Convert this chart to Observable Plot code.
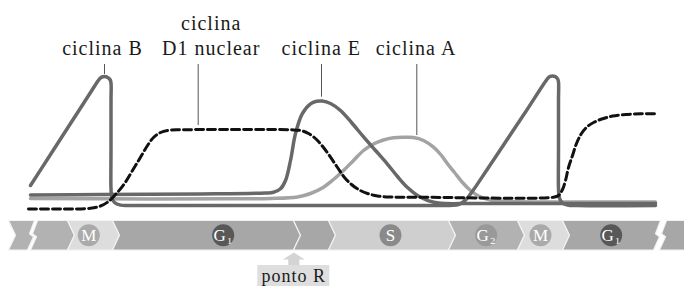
<!DOCTYPE html>
<html><head><meta charset="utf-8">
<script src="https://cdn.jsdelivr.net/npm/d3@7"></script>
<script src="https://cdn.jsdelivr.net/npm/@observablehq/plot@0.6"></script>
<style>
html,body{margin:0;padding:0;background:#fff;}
#chart svg text{letter-spacing:1px;}
</style></head><body><div id="chart"></div>
<script>
// ---- Data: relative time (a.u.) and relative level (a.u.) ----
const cyclinB_t = [0,20,40,60,68.65,70.75,74,77.25,79.63,80.5,80.5,80.5,80.5,81.3,84,90,100,170,270,370,422,428,432,436,442.5,456,476,496,517.06,519,522,525,527.2,528,528,528,528,528.8,531.5,537,547,625];
const cyclinB_v = [20,51,82,113,126.2,128.1,129,128.1,125.75,122.5,105,55,17,8,3,0.4,0,0,0,0,0.2,1,3,6.5,15,35,65,95,126.9,128.7,129.5,128.7,126.5,123.5,105,55,17,8,3,0.5,0,0];

const cyclinE_t = [0,70,170,235,243,250,255,260,265,271.7,280,286,291.7,300,310,321,333.3,345,356.7,367,376.7,390,403.3,415,440,530,625];
const cyclinE_v = [10.5,11,11.5,12.5,13.3,16.7,25,45,72,91.7,101.7,104.2,104.5,102,95,83,68.3,55,41.7,29,18.3,8.3,3.3,2,2,2,2];

const cyclinA_t = [0,120,200,240,267,280,293,303,313,323,333,343,353,363,373,383,393,403,411,417,424,432,440,448,460,480,530,625];
const cyclinA_v = [7,6.5,6.7,7,8.5,12,18.3,26,35,45,55,61.5,65.5,67.7,68.2,68,65,58.3,50,41.7,33,23,15,9.5,5.5,4,3.5,3.5];

const cyclinD1_t = [-2,30,60,70,78,86,94,102,110,117,123,130,138,150,260,270,278,286,293,300,307,314,321,328,337,347,360,390,523,528,532,535,538,542,546,551,557,564,573,582,595,610,624];
const cyclinD1_v = [-3.5,-3.5,-2.7,-0.5,4,12,22,35,48.3,60,68,73,75.2,75.7,75.7,75,72,66,58,48.3,38,28,21,16,12,9.5,8.5,8.3,8.3,10,16,25,38,50,62,72,79,83.5,87,89.5,91,91.7,91.7];

// curve labels
const labelText = ["ciclina B", "ciclina\nD1 nuclear", "ciclina E", "ciclina A"];
const labelT = [72, 180.7, 290.8, 385.5];
const leaderT = [74, 167.7, 291, 386.3];
const leaderEnd = [131, 80, 108.3, 70];

// cell-cycle phases
const phaseKind  = ["G2","G2","M","G1","G1","S","G2","M","G1","G1"];
const phaseStart = [-22, 3, 37, 82, 263, 298, 418, 487, 532, 632];
const phaseEnd   = [0, 37, 82, 263, 298, 418, 487, 532, 626, 660];
const phaseLeft  = ["chevron","bolt","chevron","chevron","chevron","chevron","chevron","chevron","chevron","bolt"];
const phaseRight = ["bolt","chevron","chevron","chevron","chevron","chevron","chevron","chevron","bolt","chevron"];

const markerKind  = ["M","G1","S","G2","M","G1"];
const markerText  = ["M","G\u2081","S","G\u2082","M","G\u2081"];
const markerT     = [58.3, 192.7, 360, 455.7, 510, 580.7];

const restrictionT = [263.3];
const restrictionLabel = ["ponto R"];

// ---- layout / style constants ----
const BAR_TOP = -15, BAR_BOT = -44.5, BAR_MID = (BAR_TOP + BAR_BOT) / 2, CHEV = 7;
const LABEL_BASE = 150.7, LEADER_TOP = 141;
const barTone = {M: "#dddddd", G1: "#a7a7a7", S: "#cfcfcf", G2: "#b2b2b2"};
const dotTone = {M: "#aaaaaa", G1: "#585858", S: "#8a8a8a", G2: "#999999"};

function edgePts(kind, x) { // top to bottom
  if (kind === "chevron") return [[x, BAR_TOP], [x + CHEV, BAR_MID], [x, BAR_BOT]];
  if (kind === "bolt") return [[x + 4, BAR_TOP], [x - 1, BAR_MID + 1.5], [x + 3, BAR_MID - 1.5], [x - 3, BAR_BOT]];
  return [[x, BAR_TOP], [x, BAR_BOT]];
}
const barPoly = [];
phaseKind.forEach((k, i) => {
  const right = edgePts(phaseRight[i], phaseEnd[i]);
  const left = edgePts(phaseLeft[i], phaseStart[i]).reverse();
  [...right, ...left].forEach(([t, v]) => barPoly.push({seg: i, t, v, fill: barTone[k]}));
});

const series = [
  {name: "A", t: cyclinA_t, v: cyclinA_v},
  {name: "E", t: cyclinE_t, v: cyclinE_v},
  {name: "B", t: cyclinB_t, v: cyclinB_v},
  {name: "D1", t: cyclinD1_t, v: cyclinD1_v}
];
const rows = name => { const s = series.find(d => d.name === name); return s.t.map((t, i) => ({t, v: s.v[i]})); };

const labels = labelText.map((text, i) => ({text, t: labelT[i]}));
const leaders = leaderT.map((t, i) => ({t, y2: leaderEnd[i]}));
const markers = markerT.map((t, i) => ({t, kind: markerKind[i], text: markerText[i]}));
const rp = restrictionT.map((t, i) => ({t, label: restrictionLabel[i]}));
const arrowPoly = rp.flatMap(d => [
  [0, -47], [11, -54], [5.5, -54], [5.5, -60], [-5.5, -60], [-5.5, -54], [-11, -54]
].map(([dx, v]) => ({t: d.t + dx, v})));

const chart = Plot.plot({
  width: 684, height: 286,
  marginTop: 0, marginRight: 0, marginBottom: 0, marginLeft: 0,
  x: {domain: [-30, 654], axis: null},
  y: {domain: [-81, 205], axis: null},
  color: {type: "identity"},
  style: {background: "#fff", fontFamily: "'Liberation Serif', serif", color: "#222"},
  marks: [
    // phase bar
    Plot.line(barPoly, {x: "t", y: "v", z: "seg", fill: "fill", stroke: "#f2f2f2", strokeWidth: 1.2, curve: "linear-closed"}),
    Plot.dot(markers, {x: "t", y: () => BAR_MID, r: 11, fill: d => dotTone[d.kind], stroke: null}),
    Plot.text(markers, {x: "t", y: () => BAR_MID, text: "text", fill: "#fff", fontSize: 17, dx: 0.5}),
    // restriction point
    Plot.line(arrowPoly, {x: "t", y: "v", fill: "#d4d4d4", stroke: null, curve: "linear-closed"}),
    Plot.rect(rp, {x1: d => d.t - 36, x2: d => d.t + 36, y1: () => -60, y2: () => -81, fill: "#dedede"}),
    Plot.text(rp, {x: "t", y: () => -76, text: "label", fontSize: 18, lineAnchor: "bottom", fill: "#1a1a1a"}),
    // curves
    Plot.line(rows("A"), {x: "t", y: "v", stroke: "#a3a3a3", strokeWidth: 3.5, curve: "catmull-rom"}),
    Plot.line(rows("E"), {x: "t", y: "v", stroke: "#686868", strokeWidth: 3.5, curve: "catmull-rom"}),
    Plot.line(rows("B"), {x: "t", y: "v", stroke: "#686868", strokeWidth: 3.5, curve: "catmull-rom"}),
    Plot.line(rows("D1"), {x: "t", y: "v", stroke: "#111", strokeWidth: 3, strokeDasharray: "8,4", curve: "catmull-rom"}),
    // labels and leaders
    Plot.ruleX(leaders, {x: "t", y1: () => LEADER_TOP, y2: "y2", stroke: "#555", strokeWidth: 1}),
    Plot.text(labels, {x: "t", y: () => LABEL_BASE, text: "text", fontSize: 20, lineAnchor: "bottom", lineHeight: 1.25, fill: "#1a1a1a"})
  ]
});
document.getElementById("chart").appendChild(chart);
</script>
</body></html>
